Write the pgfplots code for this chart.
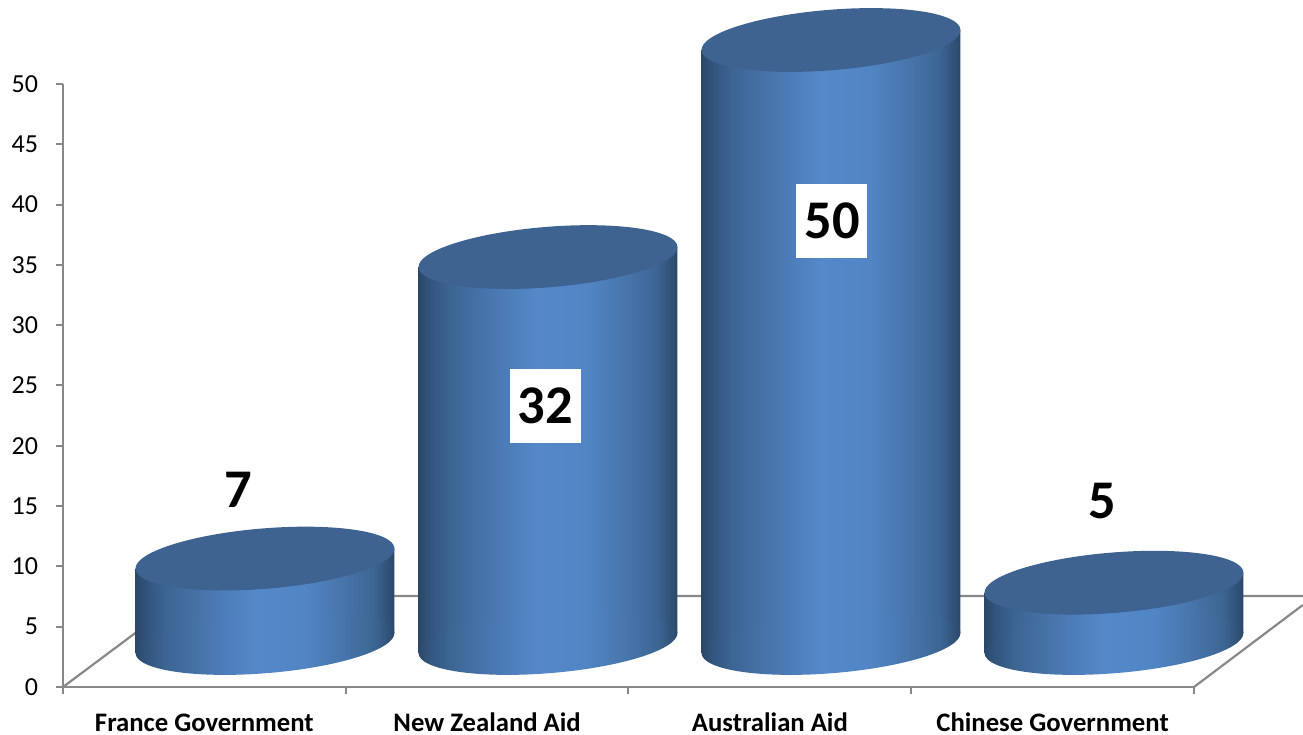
\documentclass[border=0pt]{standalone}
\usepackage{pgfplots}
\usepackage{pgfplotstable}
\usepackage{fontspec}
\setmainfont{Carlito}
\pgfplotsset{compat=1.18}
\definecolor{topc}{HTML}{3E6391}
\definecolor{gridc}{HTML}{888888}
\definecolor{c0}{HTML}{2B4768}
\definecolor{c1}{HTML}{33567F}
\definecolor{c2}{HTML}{3C6593}
\definecolor{c3}{HTML}{4A79B2}
\definecolor{c4}{HTML}{5588CA}
\definecolor{c5}{HTML}{5285C4}
\definecolor{c6}{HTML}{4775AB}
\pgfdeclarehorizontalshading{cyl}{100bp}{
  color(0bp)=(c0);
  color(25bp)=(c0);
  color(27.5bp)=(c1);
  color(31bp)=(c2);
  color(40bp)=(c3);
  color(48bp)=(c4);
  color(57.5bp)=(c5);
  color(65bp)=(c6);
  color(71bp)=(c2);
  color(75bp)=(c0);
  color(100bp)=(c0)}
\pgfdeclareplotmark{cyltop}{%
  \pgfpathellipse{\pgfpointorigin}{\pgfqpoint{129.47pt}{10.53pt}}{\pgfqpoint{-2.45pt}{30.1pt}}%
  \pgfsetfillcolor{topc}\pgfusepath{fill}}
\pgfdeclareplotmark{cylbase}{%
  \pgfpathellipse{\pgfpointorigin}{\pgfqpoint{129.47pt}{10.53pt}}{\pgfqpoint{-2.45pt}{30.1pt}}%
  \pgfshadepath{cyl}{0}\pgfusepath{discard}}
\pgfplotstableread{
x value tilt
-0.4576 0 -0.829
0.4576 0 0.829
0.4576 7 0.829
-0.4576 7 -0.829
}\barA
\pgfplotstableread{
x value tilt
0.5424 0 -0.829
1.4576 0 0.829
1.4576 32 0.829
0.5424 32 -0.829
}\barB
\pgfplotstableread{
x value tilt
1.5424 0 -0.829
2.4576 0 0.829
2.4576 50 0.829
1.5424 50 -0.829
}\barC
\pgfplotstableread{
x value tilt
2.5424 0 -0.829
3.4576 0 0.829
3.4576 5 0.829
2.5424 5 -0.829
}\barD
\pgfplotstableread{
x value
0 7
1 32
2 50
3 5
}\tops
\pgfplotstableread{
x value
0 0
1 0
2 0
3 0
}\bases
\begin{document}
\begin{tikzpicture}
\path[use as bounding box] (0,0) rectangle (1303pt,735pt);
\begin{axis}[
  at={(63pt,48pt)},anchor=south west,
  scale only axis,width=1131pt,height=603pt,
  xmin=0,xmax=4,ymin=0,ymax=50,
  clip=false,
  axis lines*=left,
  axis line style={-,draw=gridc,line width=2.6pt},
  tick style={draw=gridc,line width=2pt},
  major tick length=7.5pt,
  tick align=outside,
  xtick={0,1,2,3,4},
  x tick label as interval,
  xticklabels={France Government,New Zealand Aid,Australian Aid,Chinese Government},
  xticklabel style={font=\fontsize{26.7}{26.7}\selectfont\bfseries,inner sep=0pt,yshift=-37pt,anchor=base,text=black},
  ytick={0,5,...,50},
  yticklabel style={font=\fontsize{26}{26}\selectfont,xshift=-14pt,text=black},
  /pgf/number format/assume math mode=true,
]
\addplot[draw=gridc,line width=2.2pt] coordinates {(0,0) (0.4315,7.55) (4.385,7.55)};
\addplot[draw=gridc,line width=2.2pt] coordinates {(4,0) (4.385,6.8)};
\end{axis}
\begin{axis}[
  at={(0,0)},anchor=south west,
  scale only axis,width=1303pt,height=735pt,
  xmin=-0.9364,xmax=3.668,ymin=-7.629,ymax=53.317,
  hide axis,clip=false,
]
\addplot[only marks,mark=cylbase,mark options={draw=none}] table[x=x,y=value] {\bases};
\addplot[draw=none,shade,shading=cyl] table[x=x,y expr=\thisrow{value}+\thisrow{tilt}] {\barA} -- cycle;
\addplot[draw=none,shade,shading=cyl] table[x=x,y expr=\thisrow{value}+\thisrow{tilt}] {\barB} -- cycle;
\addplot[draw=none,shade,shading=cyl] table[x=x,y expr=\thisrow{value}+\thisrow{tilt}] {\barC} -- cycle;
\addplot[draw=none,shade,shading=cyl] table[x=x,y expr=\thisrow{value}+\thisrow{tilt}] {\barD} -- cycle;
\addplot[only marks,mark=cyltop,mark options={draw=none}] table[x=x,y=value] {\tops};
\end{axis}
\tikzset{dl/.style={font=\fontsize{54.5}{54.5}\selectfont\bfseries,inner sep=0pt,text=black}}
\node[dl] at (238pt,245pt) {7};
\node[dl,fill=white,minimum width=71pt,minimum height=74pt] at (545.5pt,329pt) {\raisebox{-4pt}{32}};
\node[dl,fill=white,minimum width=71pt,minimum height=74pt] at (831.5pt,514pt) {\hspace{1pt}\raisebox{-3pt}{50}};
\node[dl] at (1102pt,234pt) {5};
\end{tikzpicture}
\end{document}
